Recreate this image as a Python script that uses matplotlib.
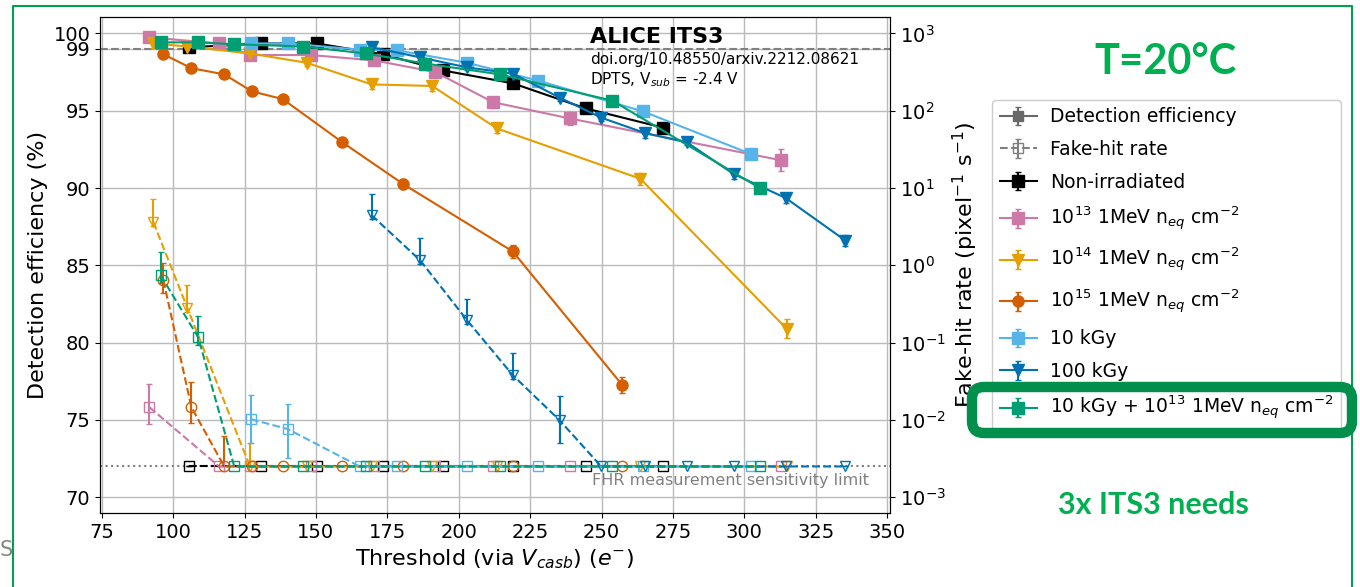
import numpy as np
import matplotlib
matplotlib.use("Agg")
import matplotlib.pyplot as plt
from matplotlib.patches import FancyBboxPatch
from matplotlib.lines import Line2D
from matplotlib.transforms import IdentityTransform

# FHR values below this are shown at the sensitivity limit
FHR_LIMIT = 2.5e-3

labels = ["Non-irradiated",
          r"10$^{13}$ 1MeV n$_{eq}$ cm$^{-2}$",
          r"10$^{14}$ 1MeV n$_{eq}$ cm$^{-2}$",
          r"10$^{15}$ 1MeV n$_{eq}$ cm$^{-2}$",
          "10 kGy",
          "100 kGy",
          r"10 kGy + 10$^{13}$ 1MeV n$_{eq}$ cm$^{-2}$"]
colors = ["black", "#CC79A7", "#E69F00", "#D55E00", "#56B4E9", "#0072B2", "#009E73"]
markers = ["s", "s", "v", "o", "s", "v", "s"]

# threshold (e-)
thr_nonirr = [105.7, 130.8, 150.3, 173.6, 194.6, 219.0, 244.4, 271.6]
thr_1e13 = [91.7, 116.1, 126.9, 148.2, 170.5, 191.8, 212.0, 238.8, 312.7]
thr_1e14 = [93.1, 105.0, 126.9, 146.8, 169.5, 190.7, 213.4, 263.6, 314.8]
thr_1e15 = [96.6, 106.4, 117.9, 127.6, 138.4, 159.3, 180.6, 218.9, 257.3]
thr_10k = [127.3, 140.2, 165.3, 178.5, 202.9, 227.7, 264.6, 302.3]
thr_100k = [169.5, 186.5, 202.9, 218.9, 235.3, 249.9, 265.3, 279.9, 296.3, 314.5, 335.4]
thr_mix = [95.6, 108.8, 121.4, 145.4, 167.4, 188.3, 214.4, 253.8, 305.4]

# detection efficiency (%)
eff_nonirr = [99.1, 99.35, 99.35, 98.64, 97.6, 96.77, 95.15, 93.9]
eff_1e13 = [99.74, 99.35, 98.6, 98.6, 98.25, 97.5, 95.55, 94.5, 91.8]
eff_1e14 = [99.35, 99.15, 98.7, 98.1, 96.7, 96.6, 93.85, 90.6, 80.9]
eff_1e15 = [98.65, 97.75, 97.35, 96.25, 95.75, 92.95, 90.25, 85.9, 77.25]
eff_10k = [99.35, 99.35, 98.95, 98.9, 98.1, 96.95, 94.95, 92.2]
eff_100k = [99.1, 98.45, 97.8, 97.4, 95.85, 94.55, 93.55, 92.95, 90.9, 89.35, 86.6]
eff_mix = [99.42, 99.42, 99.3, 99.15, 98.7, 98.05, 97.35, 95.65, 90.0]

eff_err_nonirr = [0.15, 0.15, 0.15, 0.15, 0.15, 0.2, 0.2, 0.25]
eff_err_1e13 = [0.15, 0.15, 0.2, 0.2, 0.2, 0.3, 0.35, 0.4, 0.7]
eff_err_1e14 = [0.3, 0.15, 0.2, 0.2, 0.3, 0.3, 0.3, 0.4, 0.6]
eff_err_1e15 = [0.15, 0.15, 0.15, 0.15, 0.2, 0.2, 0.3, 0.4, 0.5]
eff_err_10k = [0.15, 0.15, 0.15, 0.15, 0.2, 0.2, 0.3, 0.35]
eff_err_100k = [0.3, 0.15, 0.15, 0.2, 0.2, 0.2, 0.3, 0.2, 0.3, 0.3, 0.35]
eff_err_mix = [0.15, 0.15, 0.15, 0.15, 0.15, 0.2, 0.2, 0.2, 0.3]

# fake-hit rate (pixel^-1 s^-1)
L = FHR_LIMIT
fhr_nonirr = [L, L, L, L, L, L, L, L]
fhr_1e13 = [0.0146, L, L, L, L, L, L, L, L]
fhr_1e14 = [3.6, 0.28, L, L, L, L, L, L, L]
fhr_1e15 = [0.64, 0.0146, L, L, L, L, L, L, L]
fhr_10k = [0.0102, 0.0076, L, L, L, L, L, L]
fhr_100k = [4.45, 1.16, 0.195, 0.038, 0.0099, L, L, L, L, L, L]
fhr_mix = [0.745, 0.117, L, L, L, L, L, L, L]

# FHR error bars, in decades (down, up)
fhr_dn_1e13 = [0.22, 0, 0, 0, 0, 0, 0, 0, 0]
fhr_up_1e13 = [0.30, 0, 0, 0, 0, 0, 0, 0, 0]
fhr_dn_1e14 = [0.05, 0.05, 0, 0, 0, 0, 0, 0, 0]
fhr_up_1e14 = [0.30, 0.30, 0.31, 0, 0, 0, 0, 0, 0]
fhr_dn_1e15 = [0.17, 0.20, 0, 0, 0, 0, 0, 0, 0]
fhr_up_1e15 = [0.23, 0.32, 0.39, 0, 0, 0, 0, 0, 0]
fhr_dn_10k = [0.31, 0.37, 0, 0, 0, 0, 0, 0]
fhr_up_10k = [0.32, 0.32, 0, 0, 0, 0, 0, 0]
fhr_dn_100k = [0.05, 0.05, 0.05, 0.05, 0.30, 0, 0, 0, 0, 0, 0]
fhr_up_100k = [0.28, 0.29, 0.27, 0.28, 0.32, 0, 0, 0, 0, 0, 0]
fhr_dn_mix = [0.10, 0.10, 0, 0, 0, 0, 0, 0, 0]
fhr_up_mix = [0.30, 0.28, 0, 0, 0, 0, 0, 0, 0]
fhr_dn_nonirr = [0] * 8
fhr_up_nonirr = [0] * 8

thr = [thr_nonirr, thr_1e13, thr_1e14, thr_1e15, thr_10k, thr_100k, thr_mix]
eff = [eff_nonirr, eff_1e13, eff_1e14, eff_1e15, eff_10k, eff_100k, eff_mix]
eff_err = [eff_err_nonirr, eff_err_1e13, eff_err_1e14, eff_err_1e15, eff_err_10k, eff_err_100k, eff_err_mix]
fhr = [fhr_nonirr, fhr_1e13, fhr_1e14, fhr_1e15, fhr_10k, fhr_100k, fhr_mix]
fhr_dn = [fhr_dn_nonirr, fhr_dn_1e13, fhr_dn_1e14, fhr_dn_1e15, fhr_dn_10k, fhr_dn_100k, fhr_dn_mix]
fhr_up = [fhr_up_nonirr, fhr_up_1e13, fhr_up_1e14, fhr_up_1e15, fhr_up_10k, fhr_up_100k, fhr_up_mix]

fig = plt.figure(figsize=(13.6, 5.87), dpi=100)
ax = fig.add_axes([100 / 1360, 74 / 587, 790 / 1360, 496 / 587])
ax2 = ax.twinx()

handles = []
for i in range(len(labels)):
    h = ax.errorbar(thr[i], eff[i], yerr=eff_err[i], color=colors[i], marker=markers[i],
                    ms=8, lw=1.5, capsize=2, elinewidth=1.5, ls="-", zorder=3)
    handles.append(h)
    f = np.array(fhr[i])
    lo = f - f / 10 ** np.array(fhr_dn[i])
    hi = f * 10 ** np.array(fhr_up[i]) - f
    ax2.errorbar(thr[i], f, yerr=[lo, hi], color=colors[i], marker=markers[i],
                 ms=7.5, mfc="none", lw=1.5, capsize=2, elinewidth=1.5, ls="--")

h_eff = ax.errorbar([np.nan], [np.nan], yerr=[0.1], color="dimgrey", marker="s",
                    ms=7, lw=1.5, capsize=2, ls="-")
h_fhr = ax.errorbar([np.nan], [np.nan], yerr=[0.1], color="grey", marker="s",
                    ms=7, mfc="none", lw=1.5, capsize=2, ls="--")

ax.axhline(99, color="grey", ls="--", lw=1.5, zorder=2)
ax2.axhline(FHR_LIMIT, color="grey", ls=":", lw=1.5, zorder=1)

ax.set_xlim(74.4, 351)
ax.set_ylim(68.98, 101.06)
ax.set_yticks([70, 75, 80, 85, 90, 95, 99, 100])
ax.set_xticks(np.arange(75, 351, 25))
ax.grid(True, color="#bbbbbb", lw=1)
ax.set_axisbelow(True)
ax2.set_yscale("log")
ax2.set_ylim(10 ** -3.204, 10 ** 3.212)
ax2.set_yticks([1e-3, 1e-2, 1e-1, 1, 10, 100, 1000])
ax2.minorticks_off()

ax.tick_params(labelsize=14)
ax2.tick_params(labelsize=14)
ax.set_xlabel(r"Threshold (via $V_{casb}$) ($e^{-}$)", fontsize=16)
ax.set_ylabel("Detection efficiency (%)", fontsize=16)
ax2.set_ylabel(r"Fake-hit rate (pixel$^{-1}$ s$^{-1}$)", fontsize=16)

ax.text(0.620, 0.948, "ALICE ITS3", transform=ax.transAxes, fontsize=16,
        fontweight="bold", va="baseline")
ax.text(0.620, 0.905, "doi.org/10.48550/arxiv.2212.08621", transform=ax.transAxes,
        fontsize=11, va="baseline")
ax.text(0.620, 0.865, r"DPTS, V$_{sub}$ = -2.4 V", transform=ax.transAxes,
        fontsize=11, va="baseline")
ax.text(0.973, 0.056, "FHR measurement sensitivity limit", transform=ax.transAxes,
        fontsize=11.5, color="grey", ha="right", va="baseline")

leg = fig.legend([h_eff, h_fhr] + handles,
                 ["Detection efficiency", "Fake-hit rate"] + labels,
                 loc="upper left", bbox_to_anchor=(992 / 1360, 1 - 100 / 587),
                 borderaxespad=0, fontsize=13.5, labelspacing=0.72,
                 handletextpad=0.7, framealpha=1)

# slide decorations
green = "#00B050"
fig.text(0.857, 0.894, "T=20°C", color=green, fontsize=30, fontweight="bold",
         family="Lato", ha="center", va="center")
fig.text(0.848, 0.140, "3x ITS3 needs", color=green, fontsize=22, fontweight="bold",
         family="Lato", ha="center", va="center")
fig.text(0.0, 0.063, "S", color="#888888", fontsize=15, ha="left", va="center")
fig.add_artist(Line2D([13 / 1360, 13 / 1360, 1352 / 1360, 1352 / 1360],
                      [0, 1 - 6 / 587, 1 - 6 / 587, 0], color="#00A050", lw=1.5,
                      transform=fig.transFigure))
fig.add_artist(FancyBboxPatch((972, 587 - 433), 1352 - 972, 433 - 387,
                              boxstyle="round,pad=0,rounding_size=12",
                              transform=IdentityTransform(), fc="none",
                              ec="#00904C", lw=7.5, zorder=10))

fig.savefig("out.png", dpi=100)
